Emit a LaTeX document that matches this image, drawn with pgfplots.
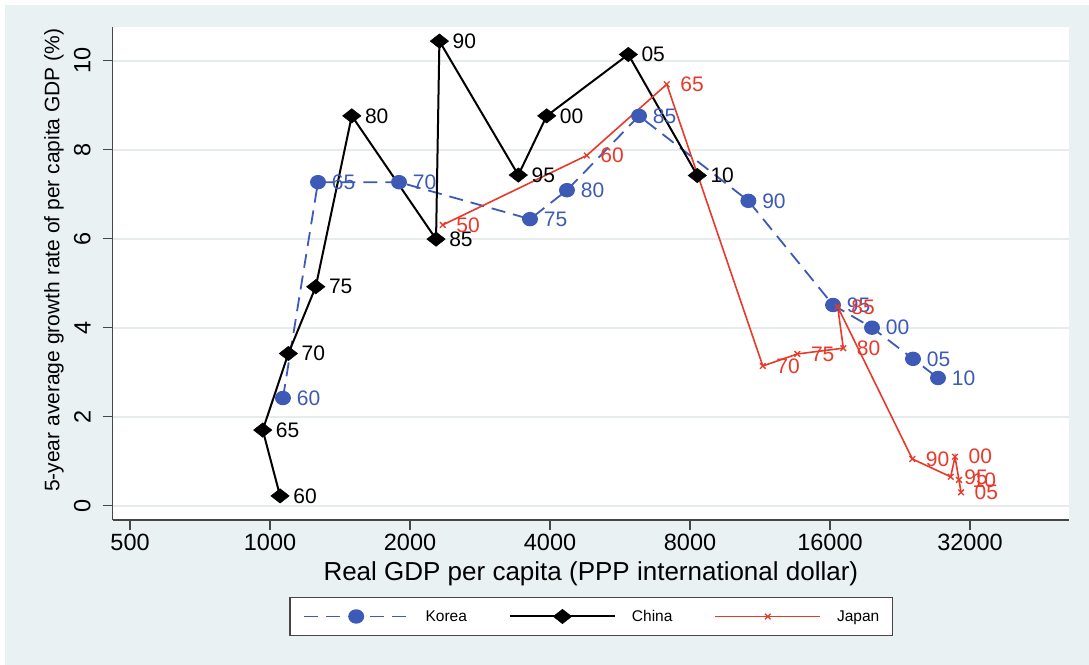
\documentclass[border=0pt]{standalone}
\usepackage{pgfplots}
\pgfplotsset{compat=1.18}
\usepackage{fontspec}
\setmainfont{Liberation Sans}
\definecolor{bgpanel}{RGB}{234,241,242}
\definecolor{gridc}{RGB}{230,236,236}
\definecolor{axisc}{RGB}{70,70,70}
\definecolor{korea}{RGB}{60,90,182}
\definecolor{japan}{RGB}{232,58,42}
\newcommand{\ticksize}{\fontsize{23.5bp}{28bp}\selectfont}
\newcommand{\labsize}{\fontsize{21bp}{25bp}\selectfont}
\begin{document}
\begin{tikzpicture}
\useasboundingbox (0bp,0bp) rectangle (1089bp,665bp);
\fill[white] (0bp,0bp) rectangle (1089bp,665bp);
\fill[bgpanel] (5bp,0bp) rectangle (1089bp,660bp);
\begin{axis}[
  at={(112.7bp,145bp)}, anchor=south west,
  scale only axis, width=956.3bp, height=493bp,
  xmode=log, log basis x=2,
  xmin=458.9, xmax=52240, ymin=-0.321, ymax=10.757,
  axis lines*=left,
  axis line style={draw=axisc, line width=1.5bp},
  axis background/.style={fill=white},
  tick align=outside, major tick length=10bp,
  tick style={draw=axisc, line width=1.5bp},
  xtick={500,1000,2000,4000,8000,16000,32000},
  xticklabels={500,1000,2000,4000,8000,16000,32000},
  ytick={0,2,4,6,8,10}, yticklabels={0,2,4,6,8,10},
  /pgf/number format/assume math mode=true,
  xticklabel style={font=\ticksize, inner sep=0pt, yshift=-4bp},
  yticklabel style={font=\ticksize, rotate=90, anchor=south, inner sep=0pt, yshift=12bp},
  ymajorgrids, major grid style={draw=gridc, line width=2bp},
  xlabel={Real GDP per capita (PPP international dollar)},
  ylabel={5-year average growth rate of per capita GDP (\%)},
  xlabel style={font=\fontsize{26bp}{30bp}\selectfont, at={(0.5,-0.1095)}, anchor=center},
  ylabel style={font=\fontsize{21bp}{25bp}\selectfont, at={(-0.0615,0.527)}, anchor=center},
  clip=false,
  legend columns=3,
  legend style={at={(0.5002,-0.1957)}, anchor=center, draw=axisc, line width=1.5bp,
    fill=white, inner xsep=13bp, inner ysep=12bp,
    font=\fontsize{15.5bp}{18bp}\selectfont,
    nodes={inner sep=0pt}, column sep=16bp,
    /tikz/every even column/.append style={column sep=42bp}},
  legend image code/.code={%
    \draw[mark repeat=2,mark phase=2] plot coordinates {(0bp,0bp) (52.5bp,0bp) (105bp,0bp)};},
  point meta=explicit symbolic,
  nodes near coords,
  every node near coord/.append style={anchor=west, xshift=13bp, inner sep=0pt, font=\labsize},
]
% Korea
\addplot[korea, line width=1.8bp, dash pattern=on 14bp off 8bp,
  mark=*, mark size=6.3bp, mark options={solid, xscale=1.12, fill=korea, draw=korea},
  every node near coord/.append style={text=korea}]
  table[x=x, y=y, meta=lab] {
x y lab
1066 2.42 60
1268 7.27 65
1894 7.27 70
3623 6.44 75
4350 7.09 80
6215 8.76 85
10680 6.85 90
16240 4.51 95
19700 4.00 00
24130 3.30 05
27310 2.87 10
};
\addlegendentry{Korea}
% China
\addplot[black, line width=2bp,
  mark=diamond*, mark size=7.2bp, mark options={xscale=1.7, fill=black, line width=0.5bp},
  every node near coord/.append style={text=black}]
  table[x=x, y=y, meta=lab] {
x y lab
1051 0.22 60
964.5 1.70 65
1095 3.42 70
1254 4.92 75
1499 8.76 80
2275 5.99 85
2313 10.44 90
3419 7.43 95
3935 8.76 00
5894 10.14 05
8294 7.42 10
};
\addlegendentry{China}
% Japan
\addplot[japan, line width=1.6bp,
  mark=x, mark size=4bp, mark options={line width=1.3bp},
  every node near coord/.append style={text=japan}]
  table[x=x, y=y, meta=lab] {
x y lab
2352 6.31 50
4797 7.87 60
7130 9.47 65
11470 3.14 70
13610 3.41 75
17090 3.54 80
16620 4.47 85
24050 1.05 90
29080 0.65 95
29710 1.10 00
30610 0.30 05
30300 0.58 10
};
\addlegendentry{Japan}
\end{axis}
\end{tikzpicture}
\end{document}
